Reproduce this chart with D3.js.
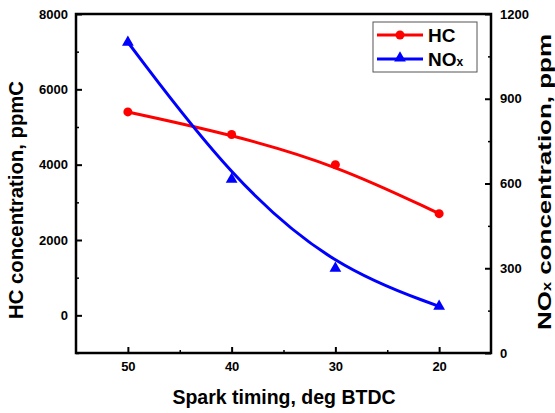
<!DOCTYPE html>
<html><head><meta charset="utf-8">
<script src="https://cdn.jsdelivr.net/npm/d3@7/dist/d3.min.js"></script>
<style>body{margin:0;background:#fff}text{font-family:"Liberation Sans",Arial,sans-serif;font-weight:bold}</style>
</head><body><svg id="c" width="555" height="413"></svg>
<script>
const timing = [50, 40, 30, 20];
const hcValues = [5400, 4800, 4000, 2700];
const noxValues = [1100, 615, 300, 165];
const xTicks = [50, 40, 30, 20];
const hcTicks = [0, 2000, 4000, 6000, 8000];
const noxTicks = [0, 300, 600, 900, 1200];

const svg = d3.select("#c");
const L = 76, R = 491, T = 14, B = 353;
const x = d3.scaleLinear().domain([55, 15]).range([L, R]);
const yL = d3.scaleLinear().domain([-1000, 8000]).range([B, T]);
const yR = d3.scaleLinear().domain([0, 1200]).range([B, T]);

const hcLine = d3.line().curve(d3.curveBasis).x((d, i) => x(timing[i])).y(d => yL(d));
const noxLine = d3.line().curve(d3.curveBasis).x((d, i) => x(timing[i])).y(d => yR(d));
svg.append("path").attr("d", hcLine(hcValues))
  .attr("fill", "none").attr("stroke", "#ff0000").attr("stroke-width", 3);
svg.append("path").attr("d", noxLine(noxValues))
  .attr("fill", "none").attr("stroke", "#0000ff").attr("stroke-width", 3);

svg.selectAll(".hc").data(timing).enter().append("circle")
  .attr("cx", (d) => x(d)).attr("cy", (d, i) => yL(hcValues[i])).attr("r", 4.5).attr("fill", "#ff0000");
const tri = d3.symbol().type(d3.symbolTriangle).size(60);
svg.selectAll(".nx").data(timing).enter().append("path")
  .attr("d", tri).attr("transform", (d, i) => `translate(${x(d)},${yR(noxValues[i])})`).attr("fill", "#0000ff");

// frame
svg.append("rect").attr("x", L).attr("y", T).attr("width", R - L).attr("height", B - T)
  .attr("fill", "none").attr("stroke", "#000").attr("stroke-width", 2.5);

// x axis ticks (inward)
const xa = d3.axisBottom(x).tickValues(xTicks).tickSize(-6).tickPadding(9).tickFormat(d3.format("d"));
const gx = svg.append("g").attr("transform", `translate(0,${B})`).call(xa);
gx.select(".domain").remove();
gx.selectAll("line").attr("stroke-width", 2);
gx.selectAll("text").attr("font-size", 13).attr("dy", "0.71em");
svg.append("g").attr("transform", `translate(0,${B})`)
  .call(d3.axisBottom(x).tickValues([45, 35, 25]).tickSize(-3).tickFormat(""))
  .call(g => g.select(".domain").remove()).selectAll("line").attr("stroke-width", 1.5);

// left axis
const gl = svg.append("g").attr("transform", `translate(${L},0)`)
  .call(d3.axisLeft(yL).tickValues(hcTicks).tickSize(-6).tickPadding(8).tickFormat(d3.format("d")));
gl.select(".domain").remove();
gl.selectAll("line").attr("stroke-width", 2);
gl.selectAll("text").attr("font-size", 13);
svg.append("g").attr("transform", `translate(${L},0)`)
  .call(d3.axisLeft(yL).tickValues([-1000, 1000, 3000, 5000, 7000]).tickSize(-3).tickFormat(""))
  .call(g => g.select(".domain").remove()).selectAll("line").attr("stroke-width", 1.5);

// right axis
const gr = svg.append("g").attr("transform", `translate(${R},0)`)
  .call(d3.axisRight(yR).tickValues(noxTicks).tickSize(-6).tickPadding(9).tickFormat(d3.format("d")));
gr.select(".domain").remove();
gr.selectAll("line").attr("stroke-width", 2);
gr.selectAll("text").attr("font-size", 13);
svg.append("g").attr("transform", `translate(${R},0)`)
  .call(d3.axisRight(yR).tickValues([150, 450, 750, 1050]).tickSize(-3).tickFormat(""))
  .call(g => g.select(".domain").remove()).selectAll("line").attr("stroke-width", 1.5);

// titles
svg.append("text").attr("x", 284).attr("y", 404).attr("text-anchor", "middle")
  .attr("font-size", 19.5).text("Spark timing, deg BTDC");
svg.append("text").attr("transform", "translate(23,200) rotate(-90)").attr("text-anchor", "middle")
  .attr("font-size", 19.5).attr("textLength", 238).attr("lengthAdjust", "spacingAndGlyphs")
  .text("HC concentration, ppmC");
const rt = svg.append("text").attr("transform", "translate(551,182) rotate(-90)").attr("text-anchor", "middle")
  .attr("font-size", 19).attr("textLength", 296).attr("lengthAdjust", "spacingAndGlyphs");
rt.append("tspan").text("NO");
rt.append("tspan").attr("font-size", 12).text("x");
rt.append("tspan").text(" concentration, ppm");

// legend
const lg = svg.append("g");
lg.append("rect").attr("x", 373).attr("y", 22).attr("width", 104).attr("height", 50)
  .attr("fill", "#fff").attr("stroke", "#555").attr("stroke-width", 1);
const legItems = [{name: "HC", color: "#ff0000", sym: "c", y: 35}, {name: "NOx", color: "#0000ff", sym: "t", y: 59}];
legItems.forEach(it => {
  lg.append("line").attr("x1", 377).attr("x2", 423).attr("y1", it.y).attr("y2", it.y)
    .attr("stroke", it.color).attr("stroke-width", 3);
  if (it.sym === "c") lg.append("circle").attr("cx", 400).attr("cy", it.y).attr("r", 4.5).attr("fill", it.color);
  else lg.append("path").attr("d", tri).attr("transform", `translate(400,${it.y - 1})`).attr("fill", it.color);
  const t = lg.append("text").attr("x", 428).attr("y", it.y + 7).attr("font-size", 19);
  if (it.name === "NOx") { t.append("tspan").text("NO"); t.append("tspan").attr("font-size", 12).text("x"); }
  else t.text(it.name);
});
</script></body></html>
